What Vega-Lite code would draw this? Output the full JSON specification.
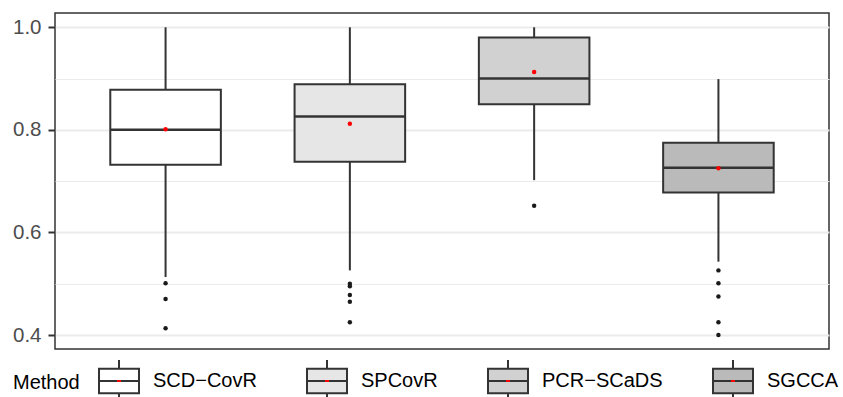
{
  "$schema": "https://vega.github.io/schema/vega-lite/v6.json",
  "width": 774,
  "height": 336,
  "autosize": {"type": "none"},
  "padding": {"left": 55, "top": 13, "right": 14, "bottom": 48},
  "background": "white",
  "datasets": {
    "stats": [
      {"Method": "SCD−CovR", "lower": 0.513, "q1": 0.732, "median": 0.800, "q3": 0.878, "upper": 1.0},
      {"Method": "SPCovR", "lower": 0.526, "q1": 0.738, "median": 0.826, "q3": 0.889, "upper": 1.0},
      {"Method": "PCR−SCaDS", "lower": 0.702, "q1": 0.850, "median": 0.900, "q3": 0.980, "upper": 1.0},
      {"Method": "SGCCA", "lower": 0.543, "q1": 0.678, "median": 0.726, "q3": 0.775, "upper": 0.899}
    ],
    "means": [
      {"Method": "SCD−CovR", "mean": 0.801},
      {"Method": "SPCovR", "mean": 0.812},
      {"Method": "PCR−SCaDS", "mean": 0.913},
      {"Method": "SGCCA", "mean": 0.725}
    ],
    "outliers": [
      {"Method": "SCD−CovR", "value": 0.501},
      {"Method": "SCD−CovR", "value": 0.470},
      {"Method": "SCD−CovR", "value": 0.413},
      {"Method": "SPCovR", "value": 0.500},
      {"Method": "SPCovR", "value": 0.495},
      {"Method": "SPCovR", "value": 0.478},
      {"Method": "SPCovR", "value": 0.465},
      {"Method": "SPCovR", "value": 0.425},
      {"Method": "PCR−SCaDS", "value": 0.652},
      {"Method": "SGCCA", "value": 0.526},
      {"Method": "SGCCA", "value": 0.501},
      {"Method": "SGCCA", "value": 0.475},
      {"Method": "SGCCA", "value": 0.425},
      {"Method": "SGCCA", "value": 0.400}
    ]
  },
  "layer": [
    {
      "data": {"name": "stats"},
      "mark": {"type": "rule", "color": "#333333", "strokeWidth": 2, "opacity": 1},
      "encoding": {
        "x": {"field": "Method", "type": "nominal", "axis": null,
              "scale": {"domain": ["SCD−CovR", "SPCovR", "PCR−SCaDS", "SGCCA"], "paddingInner": 0, "paddingOuter": 0.1}},
        "y": {"field": "lower", "type": "quantitative",
              "scale": {"domain": [0.3727, 1.0279], "nice": false, "zero": false},
              "axis": {
                "title": null,
                "values": [0.4, 0.5, 0.6, 0.7, 0.8, 0.9, 1.0],
                "labelExpr": "(round(datum.value*10) % 2 == 0) ? format(datum.value, '.1f') : ''",
                "labelOverlap": false,
                "labelFontSize": 20.5,
                "labelColor": "#4d4d4d",
                "labelPadding": 7,
                "domain": false,
                "tickSize": 7,
                "tickWidth": 2,
                "tickColor": "#333333",
                "tickOpacity": {"condition": {"test": "round(datum.value*10) % 2 == 0", "value": 1}, "value": 0},
                "grid": true,
                "gridColor": "#ebebeb",
                "gridWidth": {"condition": {"test": "round(datum.value*10) % 2 == 0", "value": 2}, "value": 1.2}
              }},
        "y2": {"field": "upper"}
      }
    },
    {
      "data": {"name": "stats"},
      "mark": {"type": "bar", "width": {"band": 0.6}, "stroke": "#333333", "strokeWidth": 2, "opacity": 1},
      "encoding": {
        "x": {"field": "Method", "type": "nominal"},
        "y": {"field": "q1", "type": "quantitative"},
        "y2": {"field": "q3"},
        "fill": {
          "field": "Method", "type": "nominal",
          "sort": ["SCD−CovR", "SPCovR", "PCR−SCaDS", "SGCCA"],
          "scale": {"range": ["#ffffff", "#e6e6e6", "#d1d1d1", "#bababa"]},
          "legend": {
            "orient": "none", "legendX": -42, "legendY": 347,
            "direction": "horizontal", "title": "Method", "titleOrient": "left",
            "titleFontSize": 20, "titleFontWeight": "normal", "titleColor": "#000000", "titlePadding": 18,
            "labelFontSize": 20, "labelColor": "#000000", "labelOffset": 13,
            "columnPadding": 46, "padding": 0,
            "symbolType": "M-1,-0.61H1V0.61H-1Z M-1,0H1 M0,-0.61V-1.05 M0,0.61V1.05",
            "symbolSize": 1600, "symbolStrokeColor": "#333333", "symbolStrokeWidth": 2,
            "symbolOpacity": 1,
            "encode": {"symbols": {"update": {
              "fill": {"signal": "scale('fill', datum.value)"},
              "strokeWidth": {"value": 2},
              "opacity": {"value": 1},
              "stroke": {"signal": "{gradient: 'radial', x1: 0.5, y1: 0.5, r1: 0, x2: 0.5, y2: 0.5, r2: 0.5, stops: [{offset: 0, color: '#ff0000'}, {offset: 0.085, color: '#ff0000'}, {offset: 0.1, color: '#333333'}, {offset: 1, color: '#333333'}]}"}
            }}}
          }
        }
      }
    },
    {
      "data": {"name": "stats"},
      "mark": {"type": "tick", "orient": "horizontal", "size": 110, "thickness": 2.5, "color": "#333333", "opacity": 1},
      "encoding": {
        "x": {"field": "Method", "type": "nominal"},
        "y": {"field": "median", "type": "quantitative"}
      }
    },
    {
      "data": {"name": "outliers"},
      "mark": {"type": "circle", "color": "#1a1a1a", "size": 20, "opacity": 1},
      "encoding": {
        "x": {"field": "Method", "type": "nominal"},
        "y": {"field": "value", "type": "quantitative"}
      }
    },
    {
      "data": {"name": "means"},
      "mark": {"type": "circle", "color": "#ff0000", "size": 20, "opacity": 1},
      "encoding": {
        "x": {"field": "Method", "type": "nominal"},
        "y": {"field": "mean", "type": "quantitative"}
      }
    }
  ],
  "config": {
    "font": "Liberation Sans",
    "view": {"stroke": "#333333", "strokeWidth": 1.5}
  }
}
